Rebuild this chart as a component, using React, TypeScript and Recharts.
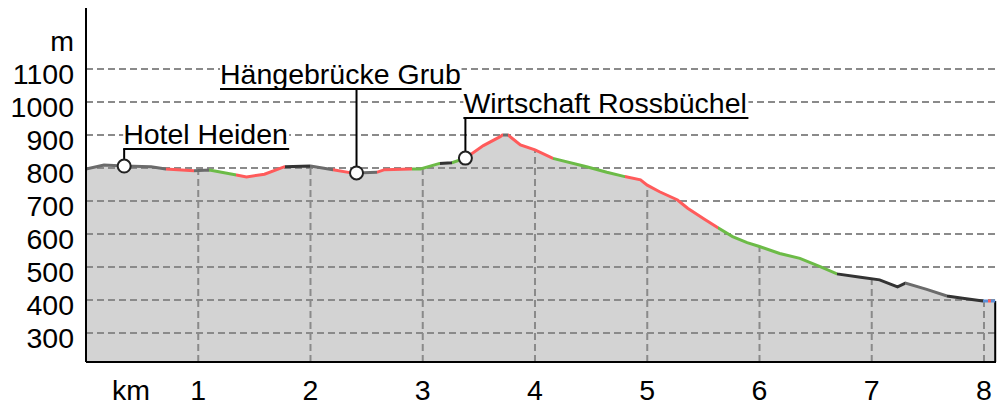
import { ComposedChart, Area, Line, XAxis, YAxis, ReferenceLine, ReferenceDot } from "recharts";

// elevation profile (km, m)
const profileKm = [
  0, 0.16, 0.34, 0.58, 0.71, 0.96, 1.1, 1.34, 1.43, 1.59, 1.77, 2.0, 2.2, 2.35, 2.41, 2.59, 2.66, 2.9, 2.98,
  3.15, 3.26, 3.38, 3.54, 3.69, 3.71, 3.76, 3.87, 4.0, 4.16, 4.46, 4.64, 4.8, 4.94, 5.0, 5.11, 5.27, 5.36,
  5.51, 5.63, 5.76, 5.89, 6.0, 6.18, 6.36, 6.54, 6.69, 6.9, 7.07, 7.23, 7.3, 7.49, 7.67, 7.81, 7.99, 8.1,
];
const profileElev = [
  797, 809, 806, 804, 797, 792, 794, 779, 773, 781, 804, 806, 795, 786, 785, 787, 795, 797, 797,
  814, 816, 830, 868, 895, 900, 900, 870, 855, 829, 804, 787, 774, 764, 748, 728, 703, 678,
  645, 619, 592, 574, 562, 541, 526, 501, 479, 469, 461, 440, 451, 432, 412, 405, 397, 397,
];

// slope colouring of the line: break points (km) and the class of each stretch
const segmentBreaks = [
  0, 0.713, 0.962, 1.096, 1.336, 1.773, 1.996, 2.2, 2.352, 2.592, 2.904, 3.154, 3.261, 3.376, 3.715, 3.76,
  4.16, 4.802, 5.63, 6.69, 7.296, 7.67, 7.991, 8.036, 8.063, 8.1,
];
const segmentClass = [
  "grey", "red", "grey", "green", "red", "dark", "grey", "red", "grey", "red", "green", "dark", "green",
  "red", "grey", "red", "green", "red", "green", "dark", "grey", "dark", "blue", "red", "blue",
];

const waypointNames = ["Hotel Heiden", "Hängebrücke Grub", "Wirtschaft Rossbüchel"];
const waypointKm = [0.34, 2.41, 3.38];
const waypointElev = [806, 785, 830];

const yTicks = [300, 400, 500, 600, 700, 800, 900, 1000, 1100];
const xTicks = [1, 2, 3, 4, 5, 6, 7, 8];
const yUnit = "m";
const xUnit = "km";

const classColors: Record<string, string> = {
  grey: "#6b6b6b",
  dark: "#333333",
  red: "#ff5b5b",
  green: "#6cbb47",
  blue: "#5a8fd8",
};

const FONT = "'Liberation Sans', Arial, sans-serif";
const FS = 28.5;
const GRID = "#8a8a8a";
const Y_MIN = 212;
const Y_MAX = 1285;
const X_MAX = 8.107;
const Y_UNIT_AT = 1200;
const X_UNIT_AT = 0.4;

// callout placement, in px relative to the marker
const calloutLayout = [
  { up: 17, left: -1, right: 165 },
  { up: 84, left: -136.5, right: 105 },
  { up: 40, left: -2, right: 283 },
];

const rows = profileKm.map((km, i) => ({ km, elev: profileElev[i] }));
const lastKm = profileKm[profileKm.length - 1];

function elevAt(km: number) {
  for (let i = 1; i < profileKm.length; i++) {
    if (km <= profileKm[i]) {
      const t = (km - profileKm[i - 1]) / (profileKm[i] - profileKm[i - 1]);
      return profileElev[i - 1] + t * (profileElev[i] - profileElev[i - 1]);
    }
  }
  return profileElev[profileElev.length - 1];
}

function YTick({ x, y, payload }: any) {
  const label = payload.value === Y_UNIT_AT ? yUnit : payload.value;
  return (
    <text x={x} y={y + 15} textAnchor="end" fontSize={FS} fontFamily={FONT} fill="#000">
      {label}
    </text>
  );
}

function XTick({ x, y, payload }: any) {
  const label = payload.value === X_UNIT_AT ? xUnit : payload.value;
  return (
    <text x={x} y={y + 38} textAnchor="middle" fontSize={FS} fontFamily={FONT} fill="#000">
      {label}
    </text>
  );
}

function Callout({ cx, cy, name, lay }: any) {
  const top = cy - lay.up;
  const x1 = cx + lay.left;
  const x2 = cx + lay.right;
  return (
    <g>
      <rect x={x1} y={top - 28} width={x2 - x1} height={27} fill="#fff" />
      <line x1={cx} y1={cy} x2={cx} y2={top} stroke="#000" strokeWidth={2} />
      <line x1={x1} y1={top} x2={x2} y2={top} stroke="#000" strokeWidth={2} />
      <text x={x1} y={top - 5} fontSize={FS} fontFamily={FONT} fill="#000">
        {name}
      </text>
      <circle cx={cx} cy={cy} r={6.5} fill="#fff" stroke="#222" strokeWidth={2} />
    </g>
  );
}

export default function App() {
  return (
    <div style={{ position: "absolute", left: 8, top: 8 }}>
      <ComposedChart width={996} height={398} data={rows} margin={{ top: 0, right: 8, bottom: 0, left: 0 }}>
        <defs>
          <linearGradient id="slope" x1="0" y1="0" x2="1" y2="0">
            {segmentClass.flatMap((c, i) => [
              <stop key={i + "a"} offset={segmentBreaks[i] / lastKm} stopColor={classColors[c]} />,
              <stop key={i + "b"} offset={segmentBreaks[i + 1] / lastKm} stopColor={classColors[c]} />,
            ])}
          </linearGradient>
        </defs>
        <XAxis
          dataKey="km"
          type="number"
          domain={[0, X_MAX]}
          allowDataOverflow
          ticks={[X_UNIT_AT, ...xTicks]}
          interval={0}
          tick={<XTick />}
          tickLine={false}
          tickSize={0}
          tickMargin={0}
          height={44}
          axisLine={{ stroke: "#000", strokeWidth: 2 }}
        />
        <YAxis
          type="number"
          domain={[Y_MIN, Y_MAX]}
          allowDataOverflow
          ticks={[...yTicks, Y_UNIT_AT]}
          interval={0}
          tick={<YTick />}
          tickLine={false}
          tickSize={0}
          tickMargin={12}
          width={78}
          axisLine={{ stroke: "#000", strokeWidth: 2 }}
        />
        <Area
          type="linear"
          dataKey="elev"
          stroke="none"
          fill="#d3d3d3"
          fillOpacity={1}
          isAnimationActive={false}
        />
        {xTicks.map((k) => (
          <ReferenceLine
            key={"v" + k}
            segment={[{ x: k, y: Y_MIN }, { x: k, y: elevAt(k) }]}
            stroke={GRID}
            strokeWidth={2}
            strokeDasharray="7 4"
          />
        ))}
        {yTicks.map((v) => (
          <ReferenceLine key={"h" + v} y={v} stroke={GRID} strokeWidth={2} strokeDasharray="7 4" />
        ))}
        <ReferenceLine
          segment={[{ x: lastKm, y: Y_MIN }, { x: lastKm, y: elevAt(lastKm) }]}
          stroke="#000"
          strokeWidth={2}
        />
        <Line
          type="linear"
          dataKey="elev"
          stroke="url(#slope)"
          strokeWidth={3}
          dot={false}
          activeDot={false}
          isAnimationActive={false}
        />
        {waypointNames.map((name, i) => (
          <ReferenceDot
            key={name}
            x={waypointKm[i]}
            y={waypointElev[i]}
            r={6.5}
            shape={(p: any) => <Callout cx={p.cx} cy={p.cy} name={name} lay={calloutLayout[i]} />}
          />
        ))}
      </ComposedChart>
    </div>
  );
}
